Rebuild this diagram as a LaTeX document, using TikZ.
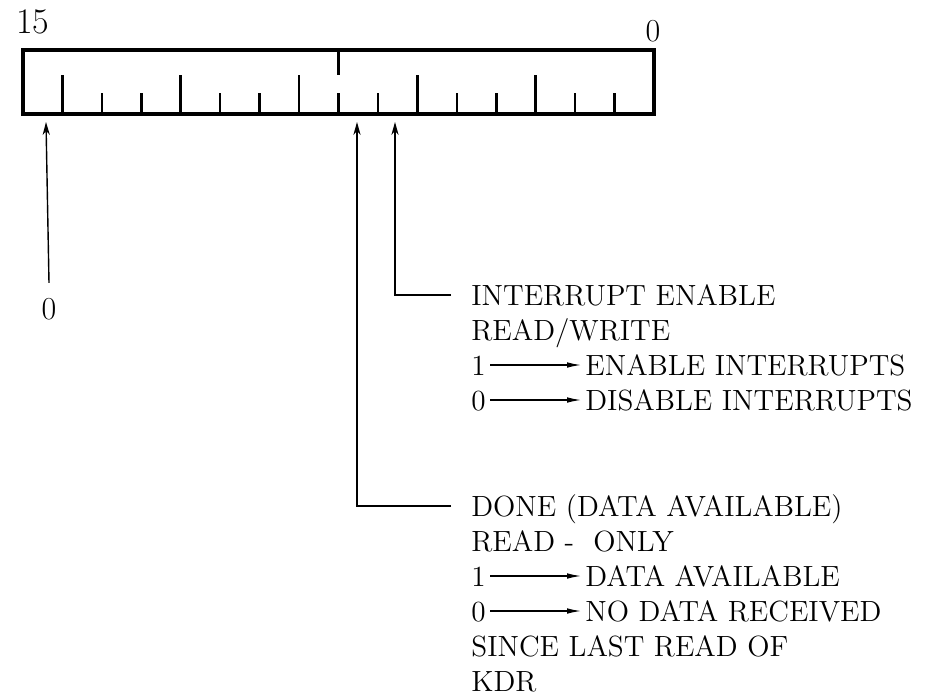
\documentclass[tikz,border=0pt]{standalone}
\usepackage{tikz}
\usetikzlibrary{arrows.meta, positioning}

\begin{document}
\begin{tikzpicture}[x=0.5pt, y=-0.5pt, >={Stealth[length=6.5pt,width=3.6pt]},
    lbl/.style={inner sep=2pt, anchor=base west, text height=10pt, text depth=0pt,
      font=\fontsize{14.6}{17.5}\selectfont},
    bitno/.style={inner sep=0pt, font=\fontsize{16}{19}\selectfont},
    tick/.style={line width=1.3pt},
    ptr/.style={->, line width=0.7pt},
    val/.style={-{Latex[length=7pt,width=2.8pt]}, line width=0.6pt}]
  \useasboundingbox (0,0) rectangle (933,698);

  % register, 16 bits
  \draw[line width=1.6pt] (23,50) rectangle (654,114);
  \foreach \k in {1,2,4,5,7,8,10,11,13,14}
    \draw[tick] ({654-\k*39.44},114) -- ++(0,-21);
  \foreach \k in {3,6,...,15}
    \draw[tick] ({654-\k*39.44},114) -- ++(0,-39);
  \draw[tick] ({654-8*39.44},50) -- ++(0,25);

  \node[bitno, font=\fontsize{18}{21}\selectfont] (msb) at (33,22) {15};
  \node[bitno] (lsb) at (653,31) {0};

  \coordinate (b15) at (46,122);
  \coordinate (b7) at (357,122);
  \coordinate (b6) at (395,122);

  % bit 15
  \node[bitno] (zero) at (49,309) {0};
  \draw[ptr] ([yshift=7.5pt]zero.north) -- (b15);

  % bit 6
  \node[lbl] (ie) at (467,305) {INTERRUPT ENABLE};
  \node[lbl] (ierw) at (467,340) {READ/WRITE};
  \node[lbl] (ie1) at (467,375) {1};
  \node[lbl] (ieon) at (581,375) {ENABLE INTERRUPTS};
  \node[lbl] (ie0) at (467,410) {0};
  \node[lbl] (ieoff) at (581,410) {DISABLE INTERRUPTS};
  \draw[val] (ie1) -- (ieon);
  \draw[val] (ie0) -- (ieoff);
  \draw[ptr] ([xshift=-8pt]ie.west) -| (b6);

  % bit 7
  \node[lbl] (done) at (467,516) {DONE (DATA AVAILABLE)};
  \node[lbl] (donero) at (467,551) {READ -~ ONLY};
  \node[lbl] (done1) at (467,586) {1};
  \node[lbl] (doneon) at (581,586) {DATA AVAILABLE};
  \node[lbl] (done0) at (467,621) {0};
  \node[lbl] (doneoff) at (581,621) {NO DATA RECEIVED};
  \node[lbl] (donesince) at (467,656) {SINCE LAST READ OF};
  \node[lbl] (donekdr) at (467,691) {KDR};
  \draw[val] (done1) -- (doneon);
  \draw[val] (done0) -- (doneoff);
  \draw[ptr] ([xshift=-8pt]done.west) -| (b7);
\end{tikzpicture}
\end{document}
